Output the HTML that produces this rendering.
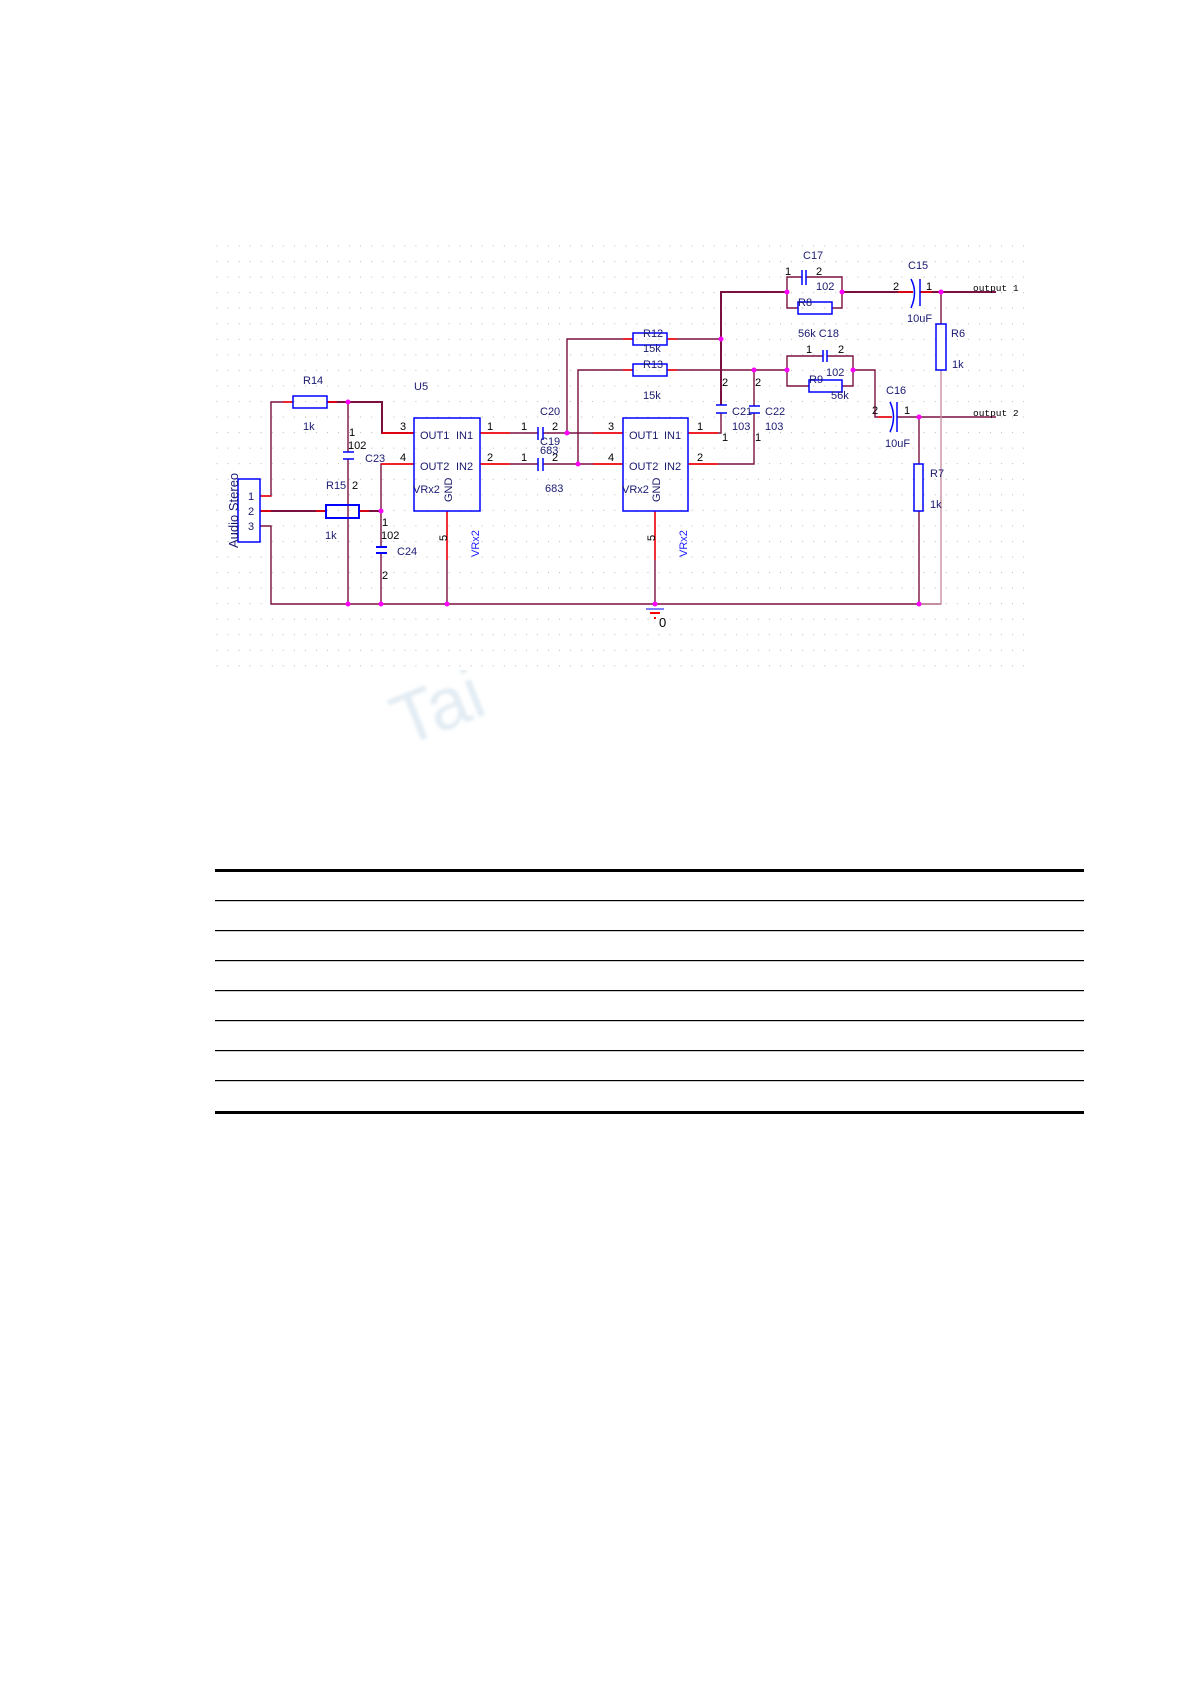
<!DOCTYPE html>
<html><head><meta charset="utf-8"><style>
html,body{margin:0;padding:0;background:#fff;}
svg{display:block;}
</style></head><body>
<svg width="1191" height="1685" viewBox="0 0 1191 1685" xmlns="http://www.w3.org/2000/svg">
<defs>
<pattern id="g" x="216.5" y="245.5" width="11.05" height="15.55" patternUnits="userSpaceOnUse">
<rect x="0" y="0" width="1" height="1" fill="#b8b8b8"/>
</pattern>
<filter id="bl"><feGaussianBlur stdDeviation="1.5"/></filter>
</defs>
<rect width="1191" height="1685" fill="#fff"/>
<!-- watermark -->
<text x="392" y="735" transform="rotate(-22 430 710)" font-family="Liberation Sans, sans-serif" font-size="72" fill="#e2ecf3" filter="url(#bl)">Tai</text>
<rect x="210" y="238" width="825" height="432" fill="#fff"/>
<rect x="214" y="244" width="818" height="424" fill="url(#g)"/>

<g fill="none" stroke="#7a1040" stroke-width="1.4">
<polyline points="260,496 271,496 271,402 293,402"/>
<polyline points="327,402 382,402 382,433 414,433" stroke-width="2"/>
<line x1="260" y1="511" x2="326" y2="511" stroke-width="2"/>
<line x1="359" y1="511" x2="381" y2="511" stroke-width="2"/>
<polyline points="260,526 271,526 271,604 941,604"/>
<line x1="348" y1="402" x2="348" y2="452"/>
<line x1="348" y1="459" x2="348" y2="604"/>
<polyline points="414,464 381,464 381,547"/>
<line x1="381" y1="553" x2="381" y2="604"/>
<line x1="447" y1="511" x2="447" y2="604"/>
<line x1="655" y1="511" x2="655" y2="604"/>
<line x1="480" y1="433" x2="538" y2="433"/>
<line x1="543" y1="433" x2="623" y2="433"/>
<line x1="480" y1="464" x2="538" y2="464"/>
<line x1="543" y1="464" x2="623" y2="464"/>
<polyline points="567,433 567,339 633,339"/>
<polyline points="578,464 578,370 633,370"/>
<line x1="667" y1="339" x2="721" y2="339"/>
<line x1="667" y1="370" x2="787" y2="370"/>
<polyline points="721,405 721,292 787,292" stroke-width="2"/>
<polyline points="721,413 721,433 688,433"/>
<polyline points="754,370 754,406"/>
<polyline points="754,413 754,464 688,464"/>
<line x1="842" y1="292" x2="913" y2="292" stroke-width="2"/>
<line x1="920" y1="292" x2="996" y2="292" stroke-width="2"/>
<polyline points="787,292 787,277 802,277"/>
<polyline points="806,277 842,277 842,308 832,308"/>
<polyline points="798,308 787,308 787,292"/>
<polyline points="787,370 787,356 823,356"/>
<polyline points="827,356 853,356 853,386 842,386"/>
<polyline points="809,386 787,386 787,370"/>
<polyline points="853,370 875,370 875,417 892,417"/>
<line x1="897" y1="417" x2="996" y2="417"/>
<line x1="919" y1="417" x2="919" y2="464"/>
<line x1="919" y1="511" x2="919" y2="604"/>
<polyline points="941,324 941,292"/>
<polyline points="941,370 941,604 919,604" stroke="#c890a0"/>
</g>
<g stroke="#ff0000" stroke-width="1.4">
<line x1="382" y1="433" x2="414" y2="433"/><line x1="381" y1="464" x2="414" y2="464"/>
<line x1="480" y1="433" x2="510" y2="433"/><line x1="480" y1="464" x2="510" y2="464"/>
<line x1="593" y1="433" x2="623" y2="433"/><line x1="593" y1="464" x2="623" y2="464"/>
<line x1="688" y1="433" x2="718" y2="433"/><line x1="688" y1="464" x2="718" y2="464"/>
<line x1="447" y1="511" x2="447" y2="560"/><line x1="655" y1="511" x2="655" y2="560"/>
<line x1="260" y1="496" x2="271" y2="496"/><line x1="260" y1="511" x2="271" y2="511"/>
<line x1="283" y1="402" x2="293" y2="402"/><line x1="327" y1="402" x2="337" y2="402"/>
<line x1="316" y1="511" x2="326" y2="511"/><line x1="359" y1="511" x2="369" y2="511"/>
<line x1="623" y1="339" x2="633" y2="339"/><line x1="667" y1="339" x2="677" y2="339"/>
<line x1="623" y1="370" x2="633" y2="370"/><line x1="667" y1="370" x2="677" y2="370"/>
<line x1="898" y1="292" x2="913" y2="292"/><line x1="920" y1="292" x2="932" y2="292"/>
<line x1="878" y1="417" x2="892" y2="417"/>
<line x1="650" y1="613" x2="660" y2="613" stroke-width="2"/>
</g>
<g fill="none" stroke="#0000ff" stroke-width="1.5">
<rect x="238" y="479" width="22" height="63"/>
<rect x="293" y="396" width="34" height="12"/>
<rect x="326" y="505" width="33" height="13" stroke-width="2"/>
<rect x="414" y="418" width="66" height="93"/>
<rect x="623" y="418" width="65" height="93"/>
<rect x="633" y="333" width="34" height="12"/>
<rect x="633" y="364" width="34" height="12"/>
<rect x="798" y="302" width="34" height="12"/>
<rect x="809" y="380" width="33" height="12"/>
<rect x="936" y="324" width="10" height="46"/>
<rect x="914" y="464" width="9" height="47"/>
<line x1="343" y1="452" x2="354" y2="452"/><line x1="343" y1="459" x2="354" y2="459"/>
<line x1="376" y1="547" x2="387" y2="547" stroke-width="2"/><line x1="376" y1="553" x2="387" y2="553" stroke-width="2"/>
<line x1="538" y1="427" x2="538" y2="440"/><line x1="543" y1="427" x2="543" y2="440"/>
<line x1="538" y1="458" x2="538" y2="471"/><line x1="543" y1="458" x2="543" y2="471"/>
<line x1="716" y1="405" x2="727" y2="405"/><line x1="716" y1="413" x2="727" y2="413"/>
<line x1="749" y1="406" x2="760" y2="406"/><line x1="749" y1="413" x2="760" y2="413"/>
<line x1="802" y1="270" x2="802" y2="285"/><line x1="806" y1="270" x2="806" y2="285"/>
<line x1="823" y1="350" x2="823" y2="362"/><line x1="827" y1="350" x2="827" y2="362"/>
<path d="M911,279 Q918,292 911,308"/><line x1="920" y1="279" x2="920" y2="306"/>
<path d="M890,402 Q897,417 890,432"/><line x1="897" y1="402" x2="897" y2="432"/>
</g>
<line x1="646" y1="609" x2="664" y2="609" stroke="#0000ff" stroke-width="1"/>
<rect x="654" y="617" width="2" height="2" fill="#ff0000"/>
<g fill="#ff00ff">
<circle cx="348" cy="402" r="2.5"/><circle cx="381" cy="511" r="2.5"/>
<circle cx="348" cy="604" r="2.5"/><circle cx="381" cy="604" r="2.5"/><circle cx="447" cy="604" r="2.5"/>
<circle cx="655" cy="604" r="2.5"/><circle cx="919" cy="604" r="2.5"/>
<circle cx="567" cy="433" r="2.5"/><circle cx="578" cy="464" r="2.5"/>
<circle cx="721" cy="339" r="2.5"/><circle cx="754" cy="370" r="2.5"/>
<circle cx="787" cy="292" r="2.5"/><circle cx="842" cy="292" r="2.5"/>
<circle cx="787" cy="370" r="2.5"/><circle cx="853" cy="370" r="2.5"/>
<circle cx="941" cy="292" r="2.5"/><circle cx="919" cy="417" r="2.5"/>
</g>
<g font-family="Liberation Sans, sans-serif" font-size="11" fill="#1a1a70">
<text x="303" y="384">R14</text><text x="303" y="430">1k</text>
<text x="326" y="489">R15</text><text x="352" y="489" fill="#000">2</text><text x="325" y="539">1k</text>
<text x="414" y="390">U5</text>
<text x="349" y="436" fill="#000">1</text><text x="348" y="449" fill="#000">102</text><text x="365" y="462">C23</text>
<text x="382" y="526" fill="#000">1</text><text x="381" y="539" fill="#000">102</text><text x="397" y="555">C24</text><text x="382" y="579" fill="#000">2</text>
<text x="420" y="439">OUT1</text><text x="456" y="439">IN1</text>
<text x="420" y="470">OUT2</text><text x="456" y="470">IN2</text>
<text x="413" y="493">VRx2</text>
<text x="629" y="439">OUT1</text><text x="664" y="439">IN1</text>
<text x="629" y="470">OUT2</text><text x="664" y="470">IN2</text>
<text x="622" y="493">VRx2</text>
<text x="452" y="502" transform="rotate(-90 452 502)">GND</text>
<text x="660" y="502" transform="rotate(-90 660 502)">GND</text>
<text x="447" y="541" transform="rotate(-90 447 541)" fill="#000">5</text>
<text x="655" y="541" transform="rotate(-90 655 541)" fill="#000">5</text>
<text x="479" y="557" transform="rotate(-90 479 557)" fill="#2020ff">VRx2</text>
<text x="687" y="557" transform="rotate(-90 687 557)" fill="#2020ff">VRx2</text>
<text x="238" y="548" transform="rotate(-90 238 548)" font-size="13">Audio Stereo</text>
<text x="248" y="500">1</text><text x="248" y="515">2</text><text x="248" y="530">3</text>
<g fill="#000"><text x="400" y="430">3</text><text x="400" y="461">4</text>
<text x="487" y="430">1</text><text x="487" y="461">2</text>
<text x="521" y="430">1</text><text x="521" y="461">1</text>
<text x="552" y="430">2</text><text x="552" y="461">2</text>
<text x="608" y="430">3</text><text x="608" y="461">4</text>
<text x="697" y="430">1</text><text x="697" y="461">2</text>
<text x="722" y="386">2</text><text x="722" y="441">1</text>
<text x="755" y="386">2</text><text x="755" y="441">1</text>
<text x="785" y="275">1</text><text x="816" y="275">2</text>
<text x="806" y="353">1</text><text x="838" y="353">2</text>
<text x="893" y="290">2</text><text x="926" y="290">1</text>
<text x="872" y="414">2</text><text x="904" y="414">1</text>
</g>
<text x="540" y="415">C20</text><text x="540" y="445">C19</text><text x="540" y="454">683</text><text x="545" y="492">683</text>
<text x="643" y="337">R12</text><text x="643" y="352">15k</text>
<text x="643" y="368">R13</text><text x="643" y="399">15k</text>
<text x="732" y="415">C21</text><text x="732" y="430">103</text>
<text x="765" y="415">C22</text><text x="765" y="430">103</text>
<text x="803" y="259">C17</text><text x="816" y="290">102</text><text x="798" y="306">R8</text>
<text x="798" y="337">56k C18</text><text x="826" y="376">102</text><text x="809" y="383">R9</text><text x="831" y="399">56k</text>
<text x="908" y="269">C15</text><text x="907" y="322">10uF</text>
<text x="886" y="394">C16</text><text x="885" y="447">10uF</text>
<text x="951" y="337">R6</text><text x="952" y="368">1k</text>
<text x="930" y="477">R7</text><text x="930" y="508">1k</text>
<text x="659" y="627" font-size="13" fill="#000">0</text>
</g>
<g font-family="Liberation Mono, monospace" font-size="9.5" fill="#000">
<text x="973" y="291">output 1</text><text x="973" y="416">output 2</text>
</g>
<rect x="215" y="869" width="869" height="3" fill="#000"/>
<g fill="#000">
<rect x="215" y="900" width="869" height="1.2"/>
<rect x="215" y="930" width="869" height="1.2"/>
<rect x="215" y="960" width="869" height="1.2"/>
<rect x="215" y="990" width="869" height="1.2"/>
<rect x="215" y="1020" width="869" height="1.2"/>
<rect x="215" y="1050" width="869" height="1.2"/>
<rect x="215" y="1080" width="869" height="1.2"/>
</g>
<rect x="215" y="1111" width="869" height="3" fill="#000"/>
</svg>
</body></html>
